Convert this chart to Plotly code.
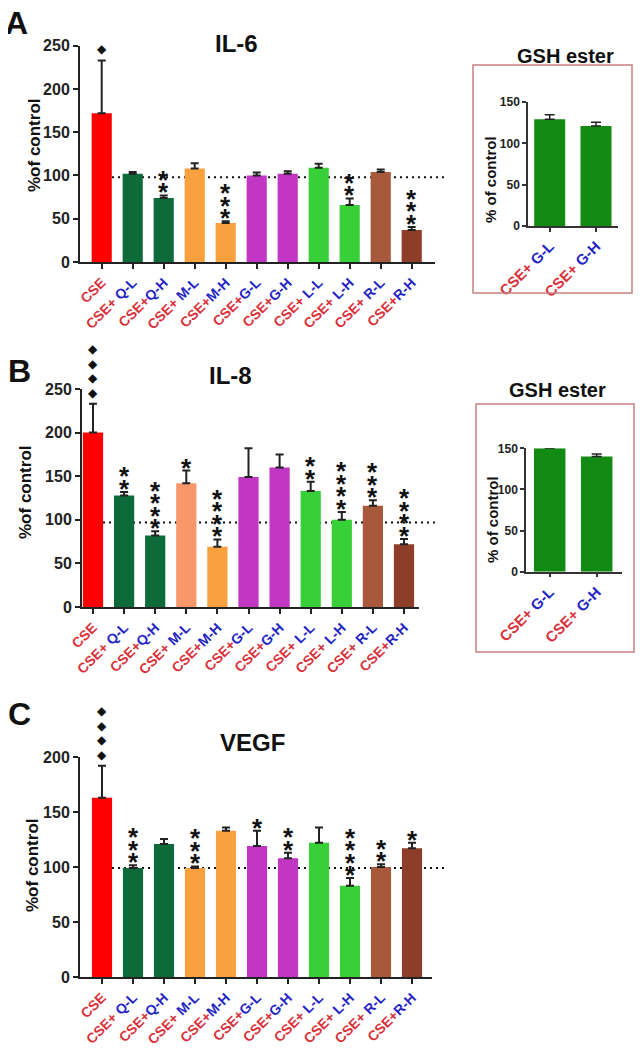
import plotly.graph_objects as go

# page body has an 8px margin; the figure is offset by it
OFF = 8
FW, FH = 643 - OFF, 1050 - OFF
FONT = "Liberation Sans, Arial, sans-serif"
RED = "#d9303a"
BLUE = "#2424c4"

# ---------------- data ----------------
categories = ["CSE", "CSE+ Q-L", "CSE+Q-H", "CSE+ M-L", "CSE+M-H", "CSE+G-L",
              "CSE+G-H", "CSE+ L-L", "CSE+ L-H", "CSE+ R-L", "CSE+R-H"]

il6_mean = [172, 102, 74, 108, 45, 100, 102, 109, 66, 104, 37]
il6_err = [61, 2, 3, 6, 2, 3.5, 3, 4.5, 7.5, 3, 3.5]
il6_sig = ["◆", "", "**", "", "***", "", "", "", "**", "", "***"]

il8_mean = [200, 128, 82, 142, 69, 149, 160, 133, 100, 116, 72]
il8_err = [33, 4, 5, 14.5, 8.5, 33, 15, 10.5, 9, 6.5, 6]
il8_sig = ["◆◆◆◆", "**", "****", "*", "****", "", "", "**", "****", "***", "****"]

vegf_mean = [163, 99, 121, 99, 133, 119, 108, 122, 83, 100, 117]
vegf_err = [29, 2.5, 4.5, 1.5, 3, 14, 5, 14, 7, 2.5, 5]
vegf_sig = ["◆◆◆◆", "***", "", "***", "", "*", "**", "", "****", "**", "*"]

gsh_categories = ["CSE+ G-L", "CSE+ G-H"]
gsh_il6_mean = [129, 121]
gsh_il6_err = [5.5, 4.5]
gsh_il8_mean = [150, 140]
gsh_il8_err = [4.5, 3]

ref_level = [98, 97, 99]

# ---------------- colours ----------------
C_CSE = "#ff0000"
C_Q = "#0d6b3a"
C_M = "#f9a03f"
C_M_SALMON = "#f8976a"
C_G = "#c236c4"
C_L = "#38d038"
C_RL = "#a8583b"
C_RH = "#8e3d29"
C_GSH = "#138a13"

colors_il6 = [C_CSE, C_Q, C_Q, C_M, C_M, C_G, C_G, C_L, C_L, C_RL, C_RH]
colors_il8 = [C_CSE, C_Q, C_Q, C_M_SALMON, C_M, C_G, C_G, C_L, C_L, C_RL, C_RH]
colors_vegf = [C_CSE, C_Q, C_Q, C_M, C_M, C_G, C_G, C_L, C_L, C_RL, C_RH]


def tick_html(label):
    if "+" in label:
        pre, post = label.split("+", 1)
        return (f'<span style="color:{RED}">{pre}+</span>'
                f'<span style="color:{BLUE}">{post}</span>')
    return f'<span style="color:{RED}">{label}</span>'


def px_x(px):
    return (px - OFF) / FW


def px_y(py):
    return 1 - (py - OFF) / FH


def paper_text(xy, text, size, angle=0, family=FONT, yanchor="middle"):
    return dict(x=px_x(xy[0]), y=px_y(xy[1]), xref="paper", yref="paper",
                text=text, showarrow=False, textangle=angle,
                xanchor="center", yanchor=yanchor,
                font=dict(size=size, family=family, weight="bold", color="#111"))


fig = go.Figure()
layout = dict(width=FW, height=FH,
              margin=dict(l=0, r=0, t=0, b=0, pad=0, autoexpand=False),
              paper_bgcolor="white", plot_bgcolor="white", showlegend=False,
              font=dict(family=FONT, color="#111"))
shapes = []
annotations = []

main_panels = [
    dict(n=1, mean=il6_mean, err=il6_err, sig=il6_sig, colors=colors_il6,
         xpx=(80, 435), ypx=(262, 45.7), c0=101.7, step=31.0, ymax=250,
         ref=ref_level[0], title="IL-6", title_xy=(236, 43), letter="A",
         letter_xy=(16, 23), ytitle_xy=(35, 145), line_px=(112, 447)),
    dict(n=3, mean=il8_mean, err=il8_err, sig=il8_sig, colors=colors_il8,
         xpx=(82, 419), ypx=(607, 389), c0=93.0, step=31.1, ymax=250,
         ref=ref_level[1], title="IL-8", title_xy=(230, 375), letter="B",
         letter_xy=(19, 371), ytitle_xy=(25, 492), line_px=(103, 438)),
    dict(n=5, mean=vegf_mean, err=vegf_err, sig=vegf_sig, colors=colors_vegf,
         xpx=(80, 432), ypx=(977, 757), c0=102.0, step=31.0, ymax=200,
         ref=ref_level[2], title="VEGF", title_xy=(252, 742), letter="C",
         letter_xy=(19, 714), ytitle_xy=(32, 865), line_px=(112, 447)),
]

for p in main_panels:
    n = p["n"]
    xa = "x" if n == 1 else f"x{n}"
    ya = "y" if n == 1 else f"y{n}"
    xkey = "xaxis" if n == 1 else f"xaxis{n}"
    ykey = "yaxis" if n == 1 else f"yaxis{n}"
    r0 = (p["xpx"][0] - p["c0"]) / p["step"]
    r1 = (p["xpx"][1] - p["c0"]) / p["step"]
    idx = list(range(len(categories)))
    fig.add_trace(go.Bar(
        x=idx, y=p["mean"], width=0.65, xaxis=xa, yaxis=ya,
        marker=dict(color=p["colors"], line=dict(width=0)),
        error_y=dict(type="data", symmetric=False, array=p["err"],
                     arrayminus=[0] * len(idx), color="#222", thickness=2,
                     width=4),
        hoverinfo="skip"))
    layout[xkey] = dict(
        domain=[px_x(p["xpx"][0]), px_x(p["xpx"][1])], range=[r0, r1],
        anchor=ya, tickvals=idx, ticktext=[tick_html(c) for c in categories],
        tickangle=-45, ticks="outside", ticklen=5, tickwidth=2, tickcolor="#222",
        showline=True, linewidth=2, linecolor="#222", showgrid=False,
        zeroline=False, fixedrange=True, automargin=False,
        tickfont=dict(size=14, family=FONT, weight="bold"))
    layout[ykey] = dict(
        domain=[px_y(p["ypx"][0]), px_y(p["ypx"][1])], range=[0, p["ymax"]],
        anchor=xa, tickvals=list(range(0, p["ymax"] + 1, 50)),
        ticks="outside", ticklen=5, tickwidth=2, tickcolor="#222",
        showline=True, linewidth=2, linecolor="#222", showgrid=False,
        zeroline=False, fixedrange=True, automargin=False,
        tickfont=dict(size=16, family=FONT, weight="bold", color="#222"))
    # reference dotted line at control level
    shapes.append(dict(type="line", xref="paper", yref=ya,
                       x0=px_x(p["line_px"][0]), x1=px_x(p["line_px"][1]),
                       y0=p["ref"], y1=p["ref"], layer="below",
                       line=dict(color="#111", width=2, dash="2px,4px")))
    # significance marks
    for i, s in enumerate(p["sig"]):
        top = p["mean"][i] + p["err"][i]
        for k, ch in enumerate(s):
            if ch == "◆":
                annotations.append(dict(
                    x=i, y=top, xref=xa, yref=ya, text=ch, showarrow=False,
                    xanchor="center", yanchor="middle",
                    yshift=11 + k * 14.5,
                    font=dict(size=12, family="DejaVu Sans", color="#111")))
            else:
                annotations.append(dict(
                    x=i, y=top, xref=xa, yref=ya, text=ch, showarrow=False,
                    xanchor="center", yanchor="middle",
                    yshift=3 + k * 12.5,
                    font=dict(size=26, family=FONT, weight="bold", color="#111")))
    annotations.append(paper_text(p["title_xy"], p["title"], 24))
    annotations.append(paper_text(p["letter_xy"], p["letter"], 32))
    annotations.append(paper_text(p["ytitle_xy"], "%of control", 17, angle=-90))

inset_panels = [
    dict(n=2, mean=gsh_il6_mean, err=gsh_il6_err, xpx=(528, 618),
         ypx=(226, 102), c0=549.7, step=46.3, box=(473, 65, 632, 293),
         title_xy=(565, 56), ytitle_xy=(490, 180)),
    dict(n=4, mean=gsh_il8_mean, err=gsh_il8_err, xpx=(526, 622),
         ypx=(571.7, 448.3), c0=549.7, step=47.0, box=(476, 404, 634, 652),
         title_xy=(557, 390), ytitle_xy=(492, 520)),
]

for p in inset_panels:
    n = p["n"]
    xa, ya = f"x{n}", f"y{n}"
    r0 = (p["xpx"][0] - p["c0"]) / p["step"]
    r1 = (p["xpx"][1] - p["c0"]) / p["step"]
    idx = list(range(len(gsh_categories)))
    fig.add_trace(go.Bar(
        x=idx, y=p["mean"], width=0.67, xaxis=xa, yaxis=ya,
        marker=dict(color=C_GSH, line=dict(width=0)),
        error_y=dict(type="data", symmetric=False, array=p["err"],
                     arrayminus=[0] * len(idx), color="#222", thickness=1.5,
                     width=5),
        hoverinfo="skip"))
    layout[f"xaxis{n}"] = dict(
        domain=[px_x(p["xpx"][0]), px_x(p["xpx"][1])], range=[r0, r1],
        anchor=ya, tickvals=idx, ticktext=[tick_html(c) for c in gsh_categories],
        tickangle=-45, ticks="outside", ticklen=4, tickwidth=1.5, tickcolor="#333",
        showline=True, linewidth=1.5, linecolor="#333", showgrid=False,
        zeroline=False, fixedrange=True, automargin=False,
        tickfont=dict(size=15, family=FONT, weight="bold"))
    layout[f"yaxis{n}"] = dict(
        domain=[px_y(p["ypx"][0]), px_y(p["ypx"][1])], range=[0, 150],
        anchor=xa, tickvals=[0, 50, 100, 150], ticks="outside", ticklen=4,
        tickwidth=1.5, tickcolor="#333", showline=True, linewidth=1.5,
        linecolor="#333", showgrid=False, zeroline=False, fixedrange=True,
        automargin=False,
        tickfont=dict(size=12, family=FONT, weight="bold", color="#222"))
    bx0, by0, bx1, by1 = p["box"]
    shapes.append(dict(type="rect", xref="paper", yref="paper",
                       x0=px_x(bx0), x1=px_x(bx1), y0=px_y(by1), y1=px_y(by0),
                       line=dict(color="#c98080", width=1.5)))
    annotations.append(paper_text(p["title_xy"], "GSH ester", 20))
    annotations.append(paper_text(p["ytitle_xy"], "% of control", 15, angle=-90))

layout["shapes"] = shapes
layout["annotations"] = annotations
fig.update_layout(**layout)
fig.write_html("out.html")
